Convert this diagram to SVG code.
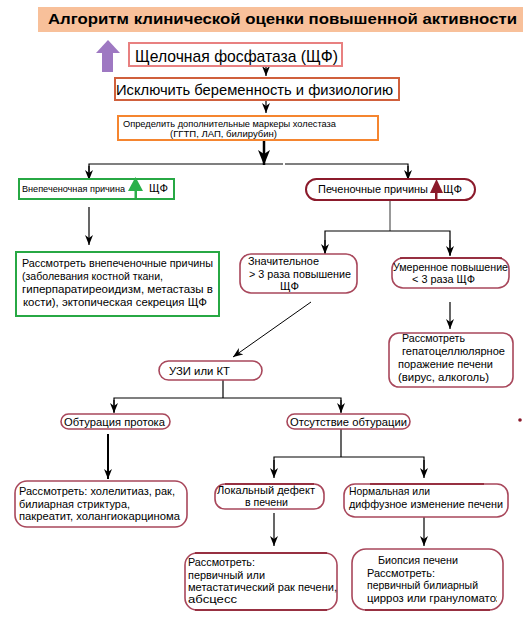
<svg xmlns="http://www.w3.org/2000/svg" width="523" height="632" viewBox="0 0 523 632">
<style>
text{font-family:"Liberation Sans",Arial,sans-serif;fill:#000}
.t11{font-size:11px}
.t9{font-size:9.5px}
.box{fill:#fff}
.rb{fill:#fff;stroke:#a8475b;stroke-width:1.6}
.ln{fill:none;stroke:#000;stroke-width:1.2}
</style>
<defs>
<marker id="ah" viewBox="0 0 10 8" refX="10" refY="4" markerWidth="10" markerHeight="8" markerUnits="userSpaceOnUse" orient="auto">
<path d="M0,0 L10,4 L0,8 L3,4 Z" fill="#000"/>
</marker>
<marker id="big" viewBox="0 0 15 12" refX="15" refY="6" markerWidth="15" markerHeight="12" markerUnits="userSpaceOnUse" orient="auto">
<path d="M0,0 L15,6 L0,12 L4,6 Z" fill="#000"/>
</marker>
<clipPath id="cl"><rect x="352" y="549" width="145" height="61"/></clipPath>
</defs>
<rect width="523" height="632" fill="#fff"/>

<g id="title">
<rect x="38" y="7" width="485" height="25" fill="#f8c09a"/>
<text x="48" y="24" font-size="15" font-weight="bold" textLength="469" lengthAdjust="spacingAndGlyphs">Алгоритм клинической оценки повышенной активности</text>
</g>

<g id="connectors">
<line class="ln" x1="266" y1="66" x2="266" y2="76" marker-end="url(#ah)"/>
<line class="ln" x1="266" y1="100" x2="266" y2="113" marker-end="url(#ah)"/>
<line x1="264" y1="140" x2="264" y2="165" stroke="#000" stroke-width="2.5" marker-end="url(#big)"/>
<polyline class="ln" points="89,180 89,164 283,164"/>
<polyline class="ln" points="285,164 408,164 408,180"/>
<line class="ln" x1="89" y1="166" x2="89" y2="180" marker-end="url(#ah)"/>
<line class="ln" x1="408" y1="166" x2="408" y2="180" marker-end="url(#ah)"/>
<line class="ln" x1="89" y1="207" x2="89" y2="245" marker-end="url(#ah)"/>
<polyline fill="none" stroke="#555" stroke-width="1.2" points="390,200 390,231"/>
<polyline class="ln" points="325,253 325,231 450,231 450,255"/>
<line class="ln" x1="325" y1="240" x2="325" y2="254" marker-end="url(#ah)"/>
<line class="ln" x1="450" y1="240" x2="450" y2="256" marker-end="url(#ah)"/>
<line class="ln" x1="450" y1="302" x2="450" y2="329" marker-end="url(#ah)"/>
<line x1="311" y1="302" x2="233" y2="357" stroke="#000" stroke-width="1" marker-end="url(#ah)"/>
<polyline class="ln" points="223,380 223,398"/>
<polyline class="ln" points="114,412 114,398 341,398 341,412"/>
<line class="ln" x1="114" y1="400" x2="114" y2="413" marker-end="url(#ah)"/>
<line class="ln" x1="341" y1="400" x2="341" y2="413" marker-end="url(#ah)"/>
<line x1="108" y1="434" x2="108" y2="479" stroke="#000" stroke-width="2" marker-end="url(#ah)"/>
<polyline class="ln" points="341,429 341,457"/>
<polyline class="ln" points="274,476 274,457 424,457 424,476"/>
<line class="ln" x1="274" y1="460" x2="274" y2="478" marker-end="url(#ah)"/>
<line class="ln" x1="424" y1="460" x2="424" y2="478" marker-end="url(#ah)"/>
<line class="ln" x1="274" y1="513" x2="274" y2="546" marker-end="url(#ah)"/>
<line class="ln" x1="424" y1="517" x2="424" y2="546" marker-end="url(#ah)"/>
</g>

<g id="purple-arrow">
<polygon points="96,53 108,40 120,53" fill="#9e78c2"/>
<rect x="102" y="52" width="11" height="20" fill="#9e78c2"/>
</g>

<g id="n-alp">
<rect x="129" y="43" width="213" height="23" class="box" stroke="#e88080" stroke-width="2"/>
<text x="135" y="62" font-size="17" textLength="203" lengthAdjust="spacingAndGlyphs">Щелочная фосфатаза (ЩФ)</text>
</g>

<g id="n-exclude">
<rect x="115" y="78" width="284" height="22" class="box" stroke="#d0603c" stroke-width="2"/>
<text x="116" y="94.5" font-size="14" textLength="277" lengthAdjust="spacingAndGlyphs">Исключить беременность и физиологию</text>
</g>

<g id="n-markers">
<rect x="118" y="116" width="260" height="24" class="box" stroke="#f5852f" stroke-width="2"/>
<text x="123" y="127" class="t9" textLength="213" lengthAdjust="spacingAndGlyphs">Определить дополнительные маркеры холестаза</text>
<text x="170" y="137" class="t9" textLength="107" lengthAdjust="spacingAndGlyphs">(ГГТП, ЛАП, билирубин)</text>
</g>

<g id="n-extra">
<rect x="19" y="179" width="155" height="20" class="box" stroke="#27a844" stroke-width="2"/>
<text x="22" y="192" font-size="9.5" textLength="103" lengthAdjust="spacingAndGlyphs">Внепеченочная причина</text>
<polygon points="128,191 135.5,177 143,191" fill="#2bb04a"/>
<rect x="134.5" y="190" width="2.5" height="8" fill="#2bb04a"/>
<text x="149" y="192" font-size="10" textLength="19" lengthAdjust="spacingAndGlyphs">ЩФ</text>
</g>

<g id="n-hep">
<rect x="306" y="179" width="169" height="21" rx="10.5" class="box" stroke="#8b1a2b" stroke-width="2"/>
<text x="318" y="193" font-size="11" textLength="110" lengthAdjust="spacingAndGlyphs">Печеночные причины</text>
<polygon points="430,193 436.5,179 443,193" fill="#8b1a2b"/>
<rect x="435" y="192" width="2.5" height="7" fill="#8b1a2b"/>
<text x="443" y="193" font-size="11" textLength="19" lengthAdjust="spacingAndGlyphs">ЩФ</text>
</g>

<g id="n-extra-consider">
<rect x="16" y="252" width="203" height="64" class="box" stroke="#27a844" stroke-width="2"/>
<text x="22" y="267" class="t11" textLength="191" lengthAdjust="spacingAndGlyphs">Рассмотреть внепеченочные причины</text>
<text x="22" y="280" class="t11" textLength="141" lengthAdjust="spacingAndGlyphs">(заболевания костной ткани,</text>
<text x="22" y="293" class="t11" textLength="191" lengthAdjust="spacingAndGlyphs">гиперпаратиреоидизм, метастазы в</text>
<text x="23" y="305.5" class="t11" textLength="184" lengthAdjust="spacingAndGlyphs">кости), эктопическая секреция ЩФ</text>
</g>

<g id="n-significant">
<rect x="240" y="254" width="117" height="39" rx="11" class="rb"/>
<text x="248" y="265" class="t11" textLength="71" lengthAdjust="spacingAndGlyphs">Значительное</text>
<text x="249" y="278" class="t11" textLength="102" lengthAdjust="spacingAndGlyphs">&gt; 3 раза повышение</text>
<text x="280" y="290" class="t11" textLength="19" lengthAdjust="spacingAndGlyphs">ЩФ</text>
</g>

<g id="n-moderate">
<rect x="392" y="258" width="117" height="30" rx="11" class="rb"/>
<line x1="400" y1="258" x2="502" y2="258" stroke="#8b1a2b" stroke-width="1.6"/>
<text x="393" y="271" class="t11" textLength="115" lengthAdjust="spacingAndGlyphs">Умеренное повышение</text>
<text x="412" y="283" class="t11" textLength="63" lengthAdjust="spacingAndGlyphs">&lt; 3 раза ЩФ</text>
</g>

<g id="n-hepatocell">
<rect x="389" y="333" width="124" height="54" rx="10" class="rb"/>
<text x="402" y="342" class="t11" textLength="63" lengthAdjust="spacingAndGlyphs">Рассмотреть</text>
<text x="402" y="354.5" class="t11" textLength="103" lengthAdjust="spacingAndGlyphs">гепатоцеллюлярное</text>
<text x="398" y="368" class="t11" textLength="95" lengthAdjust="spacingAndGlyphs">поражение печени</text>
<text x="398" y="381" class="t11" textLength="91" lengthAdjust="spacingAndGlyphs">(вирус, алкоголь)</text>
</g>

<g id="n-us">
<rect x="159" y="361" width="103" height="19" rx="9.5" class="rb"/>
<text x="169" y="375" class="t11" textLength="61" lengthAdjust="spacingAndGlyphs">УЗИ или КТ</text>
</g>

<g id="n-obstruction">
<rect x="61" y="414" width="109" height="15" rx="7.5" class="rb"/>
<text x="64" y="425.5" class="t11" textLength="101" lengthAdjust="spacingAndGlyphs">Обтурация протока</text>
</g>

<g id="n-no-obstruction">
<rect x="287" y="414" width="123" height="15" rx="7.5" class="rb"/>
<text x="290" y="425.5" class="t11" textLength="117" lengthAdjust="spacingAndGlyphs">Отсутствие обтурации</text>
</g>

<g id="n-biliary">
<rect x="15" y="481" width="172" height="46" rx="12" class="rb"/>
<text x="19" y="495" class="t11" textLength="156" lengthAdjust="spacingAndGlyphs">Рассмотреть: холелитиаз, рак,</text>
<text x="19" y="507.5" class="t11" textLength="111" lengthAdjust="spacingAndGlyphs">билиарная стриктура,</text>
<text x="19" y="520" class="t11" textLength="161" lengthAdjust="spacingAndGlyphs">пакреатит, холангиокарцинома</text>
</g>

<g id="n-local">
<rect x="215" y="484" width="109" height="25" rx="10" class="rb"/>
<line x1="225" y1="484" x2="314" y2="484" stroke="#8b1a2b" stroke-width="1.6"/>
<text x="217" y="494" class="t11" textLength="98" lengthAdjust="spacingAndGlyphs">Локальный дефект</text>
<text x="245" y="506" class="t11" textLength="43" lengthAdjust="spacingAndGlyphs">в печени</text>
</g>

<g id="n-diffuse">
<rect x="344" y="484" width="164" height="33" rx="11" class="rb"/>
<line x1="370" y1="484" x2="484" y2="484" stroke="#8b1a2b" stroke-width="1.6"/>
<text x="349" y="495" class="t11" textLength="81" lengthAdjust="spacingAndGlyphs">Нормальная или</text>
<text x="349" y="508" class="t11" textLength="154" lengthAdjust="spacingAndGlyphs">диффузное изменение печени</text>
</g>

<g id="n-cancer">
<rect x="185" y="553" width="152" height="57" rx="12" class="rb"/>
<line x1="195" y1="553" x2="327" y2="553" stroke="#8b1a2b" stroke-width="1.6"/>
<line x1="195" y1="610" x2="327" y2="610" stroke="#8b1a2b" stroke-width="1.6"/>
<text x="188" y="566" class="t11" textLength="67" lengthAdjust="spacingAndGlyphs">Рассмотреть:</text>
<text x="188" y="578.5" class="t11" textLength="77" lengthAdjust="spacingAndGlyphs">первичный или</text>
<text x="188" y="591" class="t11" textLength="149" lengthAdjust="spacingAndGlyphs">метастатический рак печени,</text>
<text x="188" y="603" class="t11" textLength="49" lengthAdjust="spacingAndGlyphs">абсцесс</text>
</g>

<g id="n-biopsy">
<rect x="352" y="549" width="151" height="61" rx="14" class="rb"/>
<line x1="365" y1="610" x2="490" y2="610" stroke="#8b1a2b" stroke-width="1.6"/>
<text x="378" y="564" class="t11" textLength="80" lengthAdjust="spacingAndGlyphs">Биопсия печени</text>
<text x="367" y="577" class="t11" textLength="68" lengthAdjust="spacingAndGlyphs">Рассмотреть:</text>
<text x="367" y="589" class="t11" textLength="111" lengthAdjust="spacingAndGlyphs">первичный билиарный</text>
<text x="367" y="601.5" class="t11" textLength="134" lengthAdjust="spacingAndGlyphs" clip-path="url(#cl)">цирроз или грануломатоз</text>
</g>

<circle cx="520" cy="420" r="1.8" fill="#8b1a2b"/>
</svg>
